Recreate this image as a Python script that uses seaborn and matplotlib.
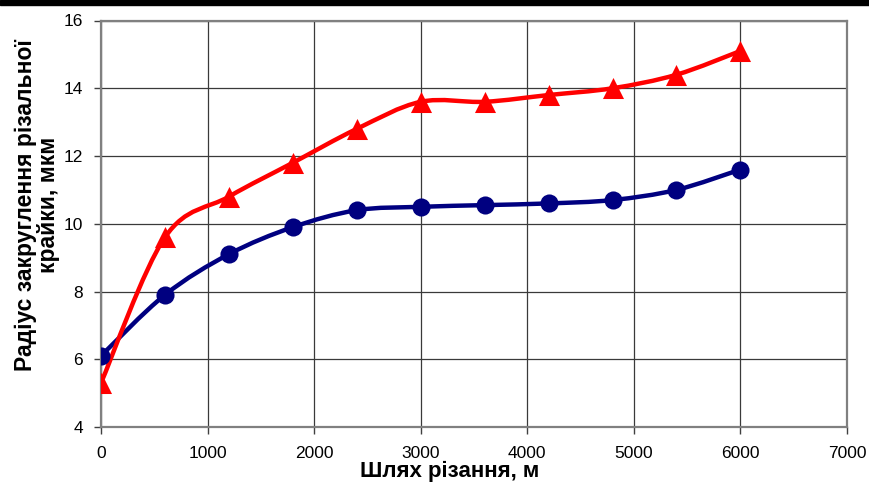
import numpy as np
import pandas as pd
import matplotlib
matplotlib.use("Agg")
import matplotlib.pyplot as plt
from matplotlib.path import Path
from matplotlib.patches import PathPatch, Rectangle
import seaborn as sns

# ---- data ----
path_m = [0, 600, 1200, 1800, 2400, 3000, 3600, 4200, 4800, 5400, 6000]
radius_blue = [6.1, 7.9, 9.1, 9.9, 10.4, 10.5, 10.55, 10.6, 10.7, 11.0, 11.6]
radius_red = [5.3, 9.6, 10.8, 11.8, 12.8, 13.6, 13.6, 13.8, 14.0, 14.4, 15.1]
x_ticks = [0, 1000, 2000, 3000, 4000, 5000, 6000, 7000]
y_ticks = [4, 6, 8, 10, 12, 14, 16]

blue = "#000080"
red = "#FF0000"

sns.set_theme(style="white")
plt.rcParams["font.family"] = ["Liberation Sans", "DejaVu Sans"]
plt.rcParams["text.color"] = "black"


def smooth_path(xs, ys):
    # Excel-style smoothed line: cubic Bezier segments through the data points
    pts = np.column_stack([xs, ys]).astype(float)
    n = len(pts)
    verts = [pts[0]]
    codes = [Path.MOVETO]
    for i in range(n - 1):
        p_prev = pts[i - 1] if i > 0 else pts[i]
        p_next2 = pts[i + 2] if i + 2 < n else pts[i + 1]
        c1 = pts[i] + (pts[i + 1] - p_prev) / 6
        c2 = pts[i + 1] - (p_next2 - pts[i]) / 6
        verts += [c1, c2, pts[i + 1]]
        codes += [Path.CURVE4] * 3
    return Path(verts, codes)


fig = plt.figure(figsize=(8.69, 4.84), dpi=100)
ax = fig.add_axes([101 / 869, 1 - 427 / 484, 746 / 869, 406.5 / 484])

df = pd.DataFrame({"x": path_m, "blue": radius_blue, "red": radius_red})

for col, color in [("blue", blue), ("red", red)]:
    ax.add_patch(PathPatch(smooth_path(df["x"], df[col]), facecolor="none",
                           edgecolor=color, lw=3.2, zorder=3,
                           capstyle="round", joinstyle="round"))

sns.scatterplot(data=df, x="x", y="blue", ax=ax, marker="o", s=170,
                color=blue, edgecolor=blue, linewidth=0, zorder=4)
sns.scatterplot(data=df, x="x", y="red", ax=ax, marker="^", s=230,
                color=red, edgecolor=red, linewidth=0, zorder=4)

ax.set_xlim(0, 7000)
ax.set_ylim(4, 16)
ax.set_xticks(x_ticks)
ax.set_yticks(y_ticks)
ax.grid(True, color="#3a3a3a", lw=0.9)
for s in ax.spines.values():
    s.set_color("#808080")
    s.set_linewidth(1.6)
ax.tick_params(axis="both", which="major", direction="out", length=5,
               width=1, color="#404040", labelsize=12.5, labelcolor="black",
               left=True, bottom=True)
ax.tick_params(axis="y", pad=8)
ax.tick_params(axis="x", pad=9)
ax.set_xlabel("")
ax.set_ylabel("")

fig.text(37 / 869, 1 - 205 / 484, "Радіус закруглення різальної\nкрайки, мкм",
         rotation=90, ha="center", va="center", fontsize=16.5,
         fontweight="bold", linespacing=1.05, color="black")
fig.text(450 / 869, 1 - 482 / 484, "Шлях різання, м", ha="center",
         va="bottom", fontsize=16, fontweight="bold", color="black")

fig.patches.append(Rectangle((0, 1 - 5 / 484), 1, 5 / 484,
                             transform=fig.transFigure, color="black",
                             zorder=10))

fig.savefig("out.png", dpi=100, facecolor="white")
